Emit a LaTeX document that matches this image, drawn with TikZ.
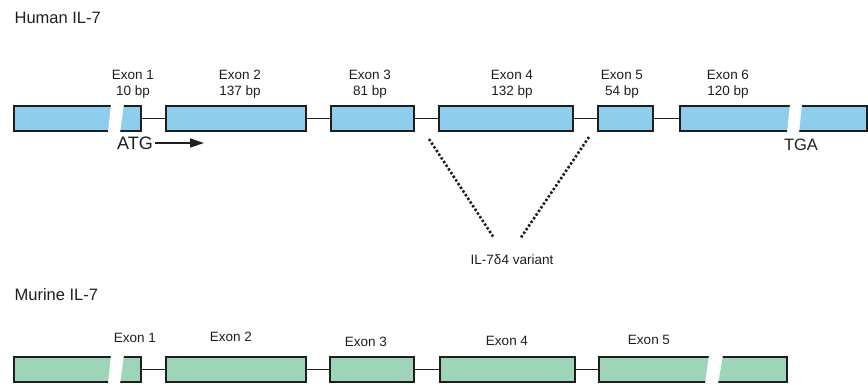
\documentclass[tikz,border=0pt]{standalone}
\usepackage{fontspec}
\setmainfont{Liberation Sans}
\usetikzlibrary{arrows.meta}
\definecolor{humanblue}{RGB}{142,206,236}
\definecolor{murinegreen}{RGB}{158,213,184}
\definecolor{ink}{RGB}{30,30,30}
\tikzset{
every picture/.style={line width=1.3pt}
}
\tikzset{
  exon/.style={draw=ink, rectangle, inner sep=0pt, outer sep=0pt, minimum height=25pt, anchor=west},
  hexon/.style={exon, fill=humanblue},
  mexon/.style={exon, fill=murinegreen},
  intron/.style={draw=ink, line width=1pt},
  exlabel/.style={text=ink, font=\fontsize{13.5}{16}\selectfont, align=center, inner sep=0pt},
  genetitle/.style={text=ink, font=\fontsize{16.5}{19}\selectfont, anchor=west, inner sep=0pt},
  codon/.style={text=ink, inner sep=2pt},
  splice/.style={draw=ink, line width=2.6pt, dash pattern=on 2.4pt off 2pt},
  cut/.style={fill=white, draw=none}
}

\begin{document}
\begin{tikzpicture}[x=1pt, y=-1pt]
    \useasboundingbox (0,0) rectangle (868,384);
    % human gene
    \node[genetitle] (htitle) at (14,18) {Human IL-7};
    \foreach \name/\xa/\w in {h1/14/127, h2/166/140, h3/331/83, h4/439/134, h5/598/55, h6/680/187} {
      \node[hexon, minimum width=\w pt] (\name) at (\xa,118.5) {};
    }
    \foreach \a/\b in {h1/h2, h2/h3, h3/h4, h4/h5, h5/h6} {
      \draw[intron] (\a.east) -- (\b.west);
    }
    \fill[cut] (111,104) -- (124,104) -- (120,133) -- (108,133) -- cycle;
    \fill[cut] (790,104) -- (802,104) -- (799,133) -- (787,133) -- cycle;
    \node[exlabel] (h1lab) at (133,84) {Exon 1\\10 bp};
    \node[exlabel] (h2lab) at (240,84) {Exon 2\\137 bp};
    \node[exlabel] (h3lab) at (370,84) {Exon 3\\81 bp};
    \node[exlabel] (h4lab) at (512,84) {Exon 4\\132 bp};
    \node[exlabel] (h5lab) at (622,84) {Exon 5\\54 bp};
    \node[exlabel] (h6lab) at (728,84) {Exon 6\\120 bp};
    \node[codon, font=\fontsize{18}{20}\selectfont] (atg) at (135,143) {ATG};
    \coordinate (atgend) at (204,143);
    \draw[ink, -{Triangle[length=14pt, width=9pt]}] (atg.east) -- (atgend);
    \node[codon, font=\fontsize{16.5}{19}\selectfont] (tga) at (801,145) {TGA};
    % delta 4 splice variant
    \node[exlabel] (variant) at (512,260) {IL-7δ4 variant};
    \coordinate (v1s) at (429,139);
    \coordinate (v1e) at (494,238);
    \coordinate (v2s) at (589,137);
    \coordinate (v2e) at (520,239);
    \draw[splice] (v1s) -- (v1e);
    \draw[splice] (v2s) -- (v2e);
    % murine gene
    \node[genetitle] (mtitle) at (14,295) {Murine IL-7};
    \foreach \name/\xa/\w in {m1/14/127, m2/166/140, m3/330/84, m4/440/135, m5/599/188} {
      \node[mexon, minimum width=\w pt] (\name) at (\xa,369.5) {};
    }
    \foreach \a/\b in {m1/m2, m2/m3, m3/m4, m4/m5} {
      \draw[intron] (\a.east) -- (\b.west);
    }
    \fill[cut] (111,355) -- (124,355) -- (120,384) -- (108,384) -- cycle;
    \fill[cut] (709,355) -- (723,355) -- (718,384) -- (705,384) -- cycle;
    \node[exlabel] (m1lab) at (135,338) {Exon 1};
    \node[exlabel] (m2lab) at (231,337) {Exon 2};
    \node[exlabel] (m3lab) at (366,342) {Exon 3};
    \node[exlabel] (m4lab) at (507,341) {Exon 4};
    \node[exlabel] (m5lab) at (649,340) {Exon 5};
  \end{tikzpicture}
\end{document}
